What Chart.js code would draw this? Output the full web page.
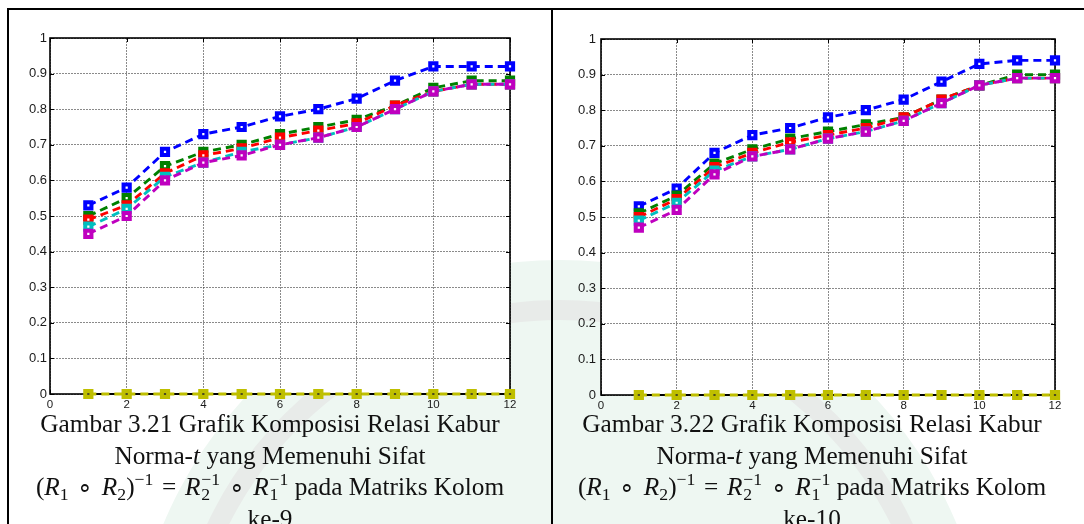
<!DOCTYPE html>
<html lang="id">
<head>
<meta charset="utf-8">
<title>Grafik Komposisi Relasi Kabur Norma-t</title>
<script src="https://cdn.jsdelivr.net/npm/chart.js@4/dist/chart.umd.min.js"></script>
<style>
  html, body { margin: 0; padding: 0; background: #fff; }
  body { width: 1084px; height: 524px; position: relative; overflow: hidden; }
  .rule { position: absolute; background: #000; }
  .bg { position: absolute; left: 0; top: 0; }
  canvas { position: absolute; }
  .cap {
    position: absolute; top: 408px; width: 560px;
    font-family: "Liberation Serif", "Times New Roman", serif;
    font-size: 25.3px; line-height: 31.5px; color: #111;
    text-align: center; white-space: nowrap;
  }
  .cap > div { height: 31.5px; }
  .cap i { font-style: italic; }
  .cap .op { padding: 0 0.34em; }
  .cap sub, .cap sup { font-size: 0.7em; line-height: 0; }
  .cap sup { vertical-align: 0.55em; }
  .cap sub { vertical-align: -0.3em; }
  .ss {
    display: inline-block; font-size: 0.7em; line-height: 0.86;
    vertical-align: -0.3em; text-align: left; margin-left: 0.05em;
  }
  .ss span { display: block; }
</style>
</head>
<body>
<svg class="bg" width="1084" height="524">
  <circle cx="560" cy="690" r="430" fill="#eef7f2" />
  <circle cx="560" cy="690" r="380" fill="none" stroke="#e8ebe9" stroke-width="20" />
</svg>

<div class="rule" style="left:7px; top:8px; width:1077px; height:2px;"></div>
<div class="rule" style="left:7px; top:8px; width:2px; height:516px;"></div>
<div class="rule" style="left:551px; top:8px; width:2px; height:516px;"></div>

<canvas id="chart9" width="540" height="410" style="left:10px; top:10px;"></canvas>
<canvas id="chart10" width="528" height="410" style="left:556px; top:10px;"></canvas>

<div class="cap" style="left:-10px;">
  <div>Gambar 3.21 Grafik Komposisi Relasi Kabur</div>
  <div>Norma-<i>t</i> yang Memenuhi Sifat</div>
  <div>(<i>R</i><sub>1</sub><span class="op">∘</span><i>R</i><sub>2</sub>)<sup>−1</sup><span class="op">=</span><i>R</i><span class="ss"><span>−1</span><span>2</span></span><span class="op">∘</span><i>R</i><span class="ss"><span>−1</span><span>1</span></span> pada Matriks Kolom</div>
  <div>ke-9</div>
</div>
<div class="cap" style="left:532px;">
  <div>Gambar 3.22 Grafik Komposisi Relasi Kabur</div>
  <div>Norma-<i>t</i> yang Memenuhi Sifat</div>
  <div>(<i>R</i><sub>1</sub><span class="op">∘</span><i>R</i><sub>2</sub>)<sup>−1</sup><span class="op">=</span><i>R</i><span class="ss"><span>−1</span><span>2</span></span><span class="op">∘</span><i>R</i><span class="ss"><span>−1</span><span>1</span></span> pada Matriks Kolom</div>
  <div>ke-10</div>
</div>

<script>
// Horizontal positions shared by every series
const xValues = [1, 2, 3, 4, 5, 6, 7, 8, 9, 10, 11, 12];

// Tick labels
const xTickLabels = ['0', '2', '4', '6', '8', '10', '12'];
const yTickLabels = ['0', '0.1', '0.2', '0.3', '0.4', '0.5', '0.6', '0.7', '0.8', '0.9', '1'];

// Matriks kolom ke-9
const blueK9    = [0.53, 0.58, 0.68, 0.73, 0.75, 0.78, 0.80, 0.83, 0.88, 0.92, 0.92, 0.92];
const greenK9   = [0.50, 0.55, 0.64, 0.68, 0.70, 0.73, 0.75, 0.77, 0.81, 0.86, 0.88, 0.88];
const redK9     = [0.49, 0.53, 0.62, 0.67, 0.69, 0.72, 0.74, 0.76, 0.81, 0.85, 0.87, 0.87];
const cyanK9    = [0.47, 0.52, 0.61, 0.65, 0.68, 0.70, 0.72, 0.75, 0.80, 0.85, 0.87, 0.87];
const magentaK9 = [0.45, 0.50, 0.60, 0.65, 0.67, 0.70, 0.72, 0.75, 0.80, 0.85, 0.87, 0.87];
const blackK9   = [0, 0, 0, 0, 0, 0, 0, 0, 0, 0, 0, 0];
const yellowK9  = [0, 0, 0, 0, 0, 0, 0, 0, 0, 0, 0, 0];

// Matriks kolom ke-10
const blueK10    = [0.53, 0.58, 0.68, 0.73, 0.75, 0.78, 0.80, 0.83, 0.88, 0.93, 0.94, 0.94];
const greenK10   = [0.51, 0.56, 0.65, 0.69, 0.72, 0.74, 0.76, 0.78, 0.83, 0.87, 0.90, 0.90];
const redK10     = [0.50, 0.55, 0.64, 0.68, 0.71, 0.73, 0.75, 0.78, 0.83, 0.87, 0.89, 0.89];
const cyanK10    = [0.49, 0.54, 0.63, 0.67, 0.69, 0.72, 0.74, 0.77, 0.82, 0.87, 0.89, 0.89];
const magentaK10 = [0.47, 0.52, 0.62, 0.67, 0.69, 0.72, 0.74, 0.77, 0.82, 0.87, 0.89, 0.89];
const blackK10   = [0, 0, 0, 0, 0, 0, 0, 0, 0, 0, 0, 0];
const yellowK10  = [0, 0, 0, 0, 0, 0, 0, 0, 0, 0, 0, 0];

const COLORS = {
  blue: '#0000ff', green: '#008000', red: '#ff0000', cyan: '#00bfbf',
  magenta: '#bf00bf', yellow: '#bfbf00', black: '#000000'
};

function points(values) {
  return xValues.map((x, i) => ({ x: x, y: values[i] }));
}

function dashedSeries(values, color, order) {
  return {
    data: points(values),
    borderColor: color,
    borderWidth: 2.9,
    borderDash: [8, 5],
    pointStyle: 'rect',
    pointRadius: 4.4,
    pointBorderWidth: 4,
    pointBorderColor: color,
    pointBackgroundColor: '#ffffff',
    tension: 0,
    clip: false,
    order: order
  };
}

// White plot area, black frame and inward tick marks on all four sides
const framePlugin = {
  id: 'frame',
  beforeDraw(chart) {
    const a = chart.chartArea, ctx = chart.ctx;
    ctx.save();
    ctx.fillStyle = '#ffffff';
    ctx.fillRect(a.left, a.top, a.right - a.left, a.bottom - a.top);
    ctx.restore();
  },
  beforeDatasetsDraw(chart) {
    const a = chart.chartArea, ctx = chart.ctx;
    const xs = chart.scales.x, ys = chart.scales.y;
    const len = 4;
    ctx.save();
    ctx.strokeStyle = '#000';
    ctx.lineWidth = 1.6;
    ctx.strokeRect(a.left, a.top, a.right - a.left, a.bottom - a.top);
    ctx.lineWidth = 1;
    ctx.beginPath();
    xs.ticks.forEach(t => {
      const px = Math.round(xs.getPixelForValue(t.value)) + 0.5;
      ctx.moveTo(px, a.bottom); ctx.lineTo(px, a.bottom - len);
      ctx.moveTo(px, a.top); ctx.lineTo(px, a.top + len);
    });
    ys.ticks.forEach(t => {
      const py = Math.round(ys.getPixelForValue(t.value)) + 0.5;
      ctx.moveTo(a.left, py); ctx.lineTo(a.left + len, py);
      ctx.moveTo(a.right, py); ctx.lineTo(a.right - len, py);
    });
    ctx.stroke();
    ctx.restore();
  }
};

function buildChart(id, s, layout) {
  const datasets = [
    dashedSeries(s.blue, COLORS.blue, 6),
    dashedSeries(s.green, COLORS.green, 5),
    dashedSeries(s.red, COLORS.red, 4),
    dashedSeries(s.cyan, COLORS.cyan, 3),
    dashedSeries(s.magenta, COLORS.magenta, 2),
    {
      data: points(s.black),
      borderColor: COLORS.black,
      borderWidth: 2.2,
      pointRadius: 0,
      clip: false,
      order: 1
    },
    Object.assign(dashedSeries(s.yellow, COLORS.yellow, 0), {
      pointBackgroundColor: '#4a4a20'
    })
  ];

  const tickFont = { family: "'Liberation Sans', Arial, sans-serif" };

  return new Chart(document.getElementById(id), {
    type: 'line',
    data: { datasets: datasets },
    plugins: [framePlugin],
    options: {
      responsive: false,
      animation: false,
      devicePixelRatio: 1,
      layout: { padding: { top: layout.top, right: layout.right, left: 0, bottom: 0 } },
      plugins: { legend: { display: false }, tooltip: { enabled: false } },
      scales: {
        x: {
          type: 'linear', min: 0, max: 12,
          ticks: {
            stepSize: 2, padding: 4, maxRotation: 0, color: '#1a1a1a',
            font: Object.assign({ size: 11.5 }, tickFont),
            callback: (v, i) => xTickLabels[i]
          },
          grid: { color: 'rgba(60,60,60,0.6)', lineWidth: 1, drawTicks: false },
          border: { display: false, dash: [2, 1] },
          afterFit(scale) { scale.height = layout.xHeight; }
        },
        y: {
          min: 0, max: 1,
          ticks: {
            stepSize: 0.1, padding: layout.yPad, color: '#1a1a1a',
            font: Object.assign({ size: 13 }, tickFont),
            callback: (v, i) => yTickLabels[i]
          },
          grid: { color: 'rgba(60,60,60,0.6)', lineWidth: 1, drawTicks: false },
          border: { display: false, dash: [2, 1] },
          afterFit(scale) { scale.width = layout.yWidth; }
        }
      }
    }
  });
}

buildChart('chart9', {
  blue: blueK9, green: greenK9, red: redK9, cyan: cyanK9,
  magenta: magentaK9, black: blackK9, yellow: yellowK9
}, { top: 28, right: 40, xHeight: 26, yWidth: 40, yPad: 3 });

buildChart('chart10', {
  blue: blueK10, green: greenK10, red: redK10, cyan: cyanK10,
  magenta: magentaK10, black: blackK10, yellow: yellowK10
}, { top: 29, right: 29, xHeight: 25, yWidth: 45, yPad: 5 });
</script>
</body>
</html>
